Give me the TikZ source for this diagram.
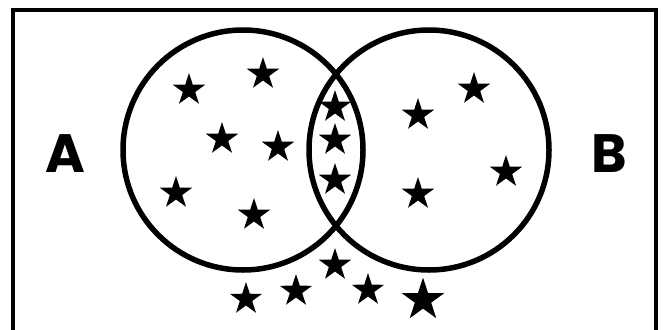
\documentclass[tikz,border=0pt]{standalone}
\usepackage{fontspec}
\setmainfont{Poppins}
\usetikzlibrary{shapes.geometric}

\begin{document}
\begin{tikzpicture}[x=1pt,y=-1pt,
  setring/.style={circle,draw,line width=5.5pt,minimum size=240pt,inner sep=0pt},
  starmark/.style={star,star points=5,star point ratio=2.618,fill=black,inner sep=0pt,minimum size=34pt},
  setlabel/.style={inner sep=0pt,font=\fontsize{54}{54}\selectfont\bfseries}]
\useasboundingbox (0,0) rectangle (666,329);
\draw[line width=4pt] (13,10) rectangle (656,333);
\node[setring] (ca) at (243,150) {};
\node[setring] (cb) at (429,150) {};
\node[setlabel] (la) at (65,154) {A};
\node[setlabel] (lb) at (609,154) {B};
\foreach \n/\x/\y in {a1/189/90, a2/263/74, a3/222/139, a4/278/147, a5/176/193, a6/254/215,
  m1/335/107, m2/335/140, m3/335/180,
  b1/418/115, b2/474/89, b3/506/172, b4/418/194,
  o1/335/265, o2/246/299, o3/296/291, o4/368/290}
  \node[starmark] (\n) at (\x,\y) {};
\node[starmark,minimum size=45pt] (o5) at (423,300) {};
\end{tikzpicture}
\end{document}
